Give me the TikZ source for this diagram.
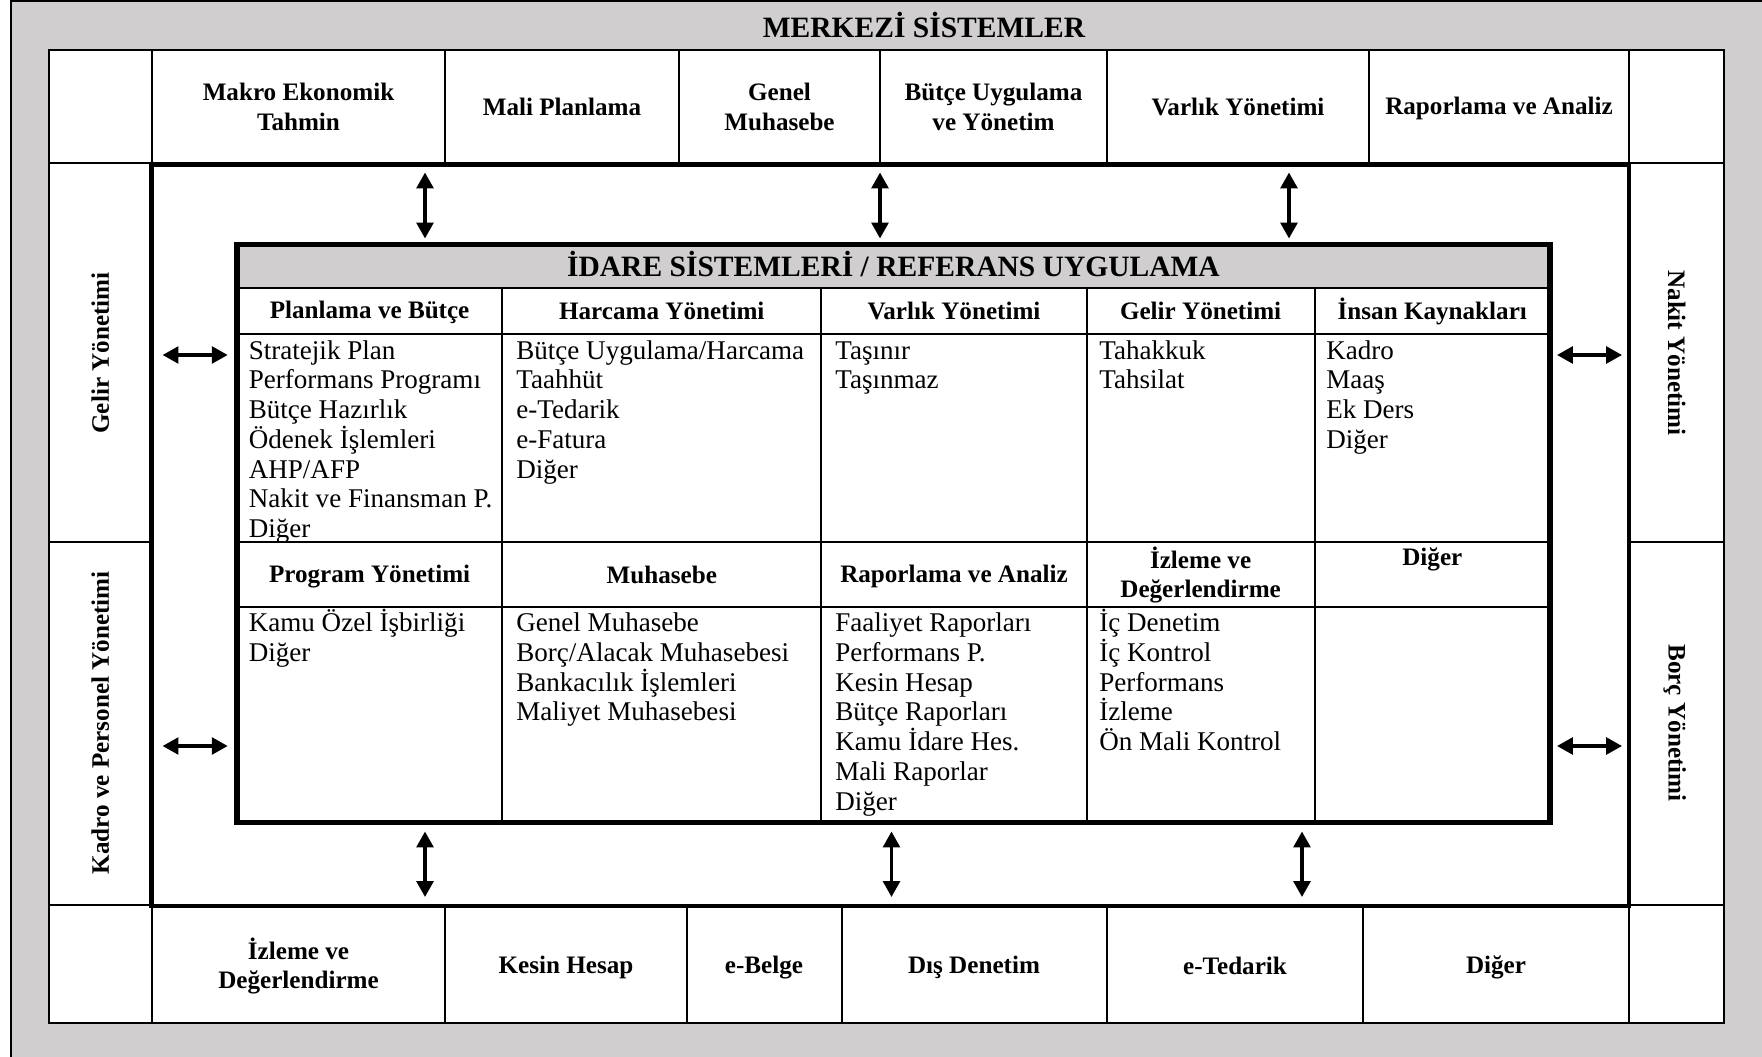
\documentclass[tikz,border=0pt]{standalone}
\usepackage{fontspec}
\setmainfont{Liberation Serif}
\usetikzlibrary{arrows.meta}
\definecolor{framegray}{RGB}{208,206,206}
\newcommand{\boldfont}{\fontsize{14.3}{16.8}\selectfont\bfseries}
\newcommand{\itemfont}{\fontsize{15.4}{16.93}\selectfont}
\newcommand{\titlefont}{\fontsize{16.8}{20}\selectfont\bfseries}
\newcommand{\topstrut}{\rule{0pt}{14pt}}
\newcommand{\ls}{\rule[-2.5pt]{0pt}{14.5pt}}
\newcommand{\cellbox}[4]{\draw[thinline] ( #1 , #2 ) rectangle ( #3 , #4 );}
\tikzset{
    thinline/.style={line width=1.1pt},
    outerline/.style={line width=2.8pt},
    innerline/.style={line width=3.1pt},
    lbl/.style={font=\boldfont, align=center, inner sep=0pt},
    items/.style={font=\itemfont, align=left, anchor=north west, inner sep=0pt},
    dblarrow/.style={line width=1.9pt, {Triangle[length=9pt,width=9.5pt]}-{Triangle[length=9pt,width=9.5pt]}}
}

\begin{document}
\begin{tikzpicture}[x=0.02cm, y=-0.02cm]
        \useasboundingbox (0,0) rectangle (1762,1057);
        \fill[white] (0,0) rectangle (1762,1057);
        \draw[thinline, fill=framegray] (11,1) rectangle (1790,1090);
        \node[font=\titlefont, inner sep=0pt] (merkezi) at (924,27) {\ls MERKEZİ SİSTEMLER};
        \draw[thinline, fill=white] (49,50) rectangle (1724,1023);

        % top row
        \cellbox{49}{50}{152}{163}
        \cellbox{152}{50}{445}{163}
        \cellbox{445}{50}{679}{163}
        \cellbox{679}{50}{880}{163}
        \cellbox{880}{50}{1107}{163}
        \cellbox{1107}{50}{1369}{163}
        \cellbox{1369}{50}{1629}{163}
        \cellbox{1629}{50}{1724}{163}
        % bottom row
        \cellbox{49}{905}{152}{1023}
        \cellbox{152}{905}{445}{1023}
        \cellbox{445}{905}{686.6}{1023}
        \cellbox{686.6}{905}{841.7}{1023}
        \cellbox{841.7}{905}{1107}{1023}
        \cellbox{1107}{905}{1363}{1023}
        \cellbox{1363}{905}{1629}{1023}
        \cellbox{1629}{905}{1724}{1023}
        % side columns
        \cellbox{49}{163}{152}{541.6}
        \cellbox{49}{541.6}{152}{905}
        \cellbox{1629}{163}{1724}{541.6}
        \cellbox{1629}{541.6}{1724}{905}

        \draw[outerline] (151.7,165) rectangle (1629,906);

        % inner table
        \fill[framegray] (237,244.5) rectangle (1550,287.7);
        \draw[thinline] (237,287.7) -- (1550,287.7);
        \draw[thinline] (237,333.7) -- (1550,333.7);
        \draw[thinline] (237,541.6) -- (1550,541.6);
        \draw[thinline] (237,606.8) -- (1550,606.8);
        \draw[thinline] (502.3,287.7) -- (502.3,822.7);
        \draw[thinline] (821.4,287.7) -- (821.4,822.7);
        \draw[thinline] (1086.6,287.7) -- (1086.6,822.7);
        \draw[thinline] (1314.7,287.7) -- (1314.7,822.7);
        \draw[innerline] (237,244.5) rectangle (1550,822.7);

        % text
        \node[lbl] (t1) at (298.5,107) {\ls Makro Ekonomik\\Tahmin\ls};
        \node[lbl] (t2) at (562,107) {\ls Mali Planlama};
        \node[lbl] (t3) at (779.5,107) {\ls Genel\\Muhasebe\ls};
        \node[lbl] (t4) at (993.5,107) {\ls Bütçe Uygulama\\ve Yönetim\ls};
        \node[lbl] (t5) at (1238,107) {\ls Varlık Yönetimi};
        \node[lbl] (t6) at (1499,107) {\ls Raporlama ve Analiz};

        \node[lbl] (b1) at (298.5,966) {\ls İzleme ve\\Değerlendirme\ls};
        \node[lbl] (b2) at (566,966) {\ls Kesin Hesap};
        \node[lbl] (b3) at (764,966) {\ls e-Belge};
        \node[lbl] (b4) at (974,966) {\ls Dış Denetim};
        \node[lbl] (b5) at (1235,966) {\ls e-Tedarik};
        \node[lbl] (b6) at (1496,966) {\ls Diğer};

        \node[lbl, rotate=90] (gelir) at (100.5,353) {\ls Gelir Yönetimi};
        \node[lbl, rotate=90] (kadro) at (100.5,723) {\ls Kadro ve Personel Yönetimi};
        \node[lbl, rotate=-90] (nakit) at (1676.5,353) {\ls Nakit Yönetimi};
        \node[lbl, rotate=-90] (borc) at (1676.5,723) {\ls Borç Yönetimi};

        \node[font=\titlefont, inner sep=0pt] (idare) at (893.5,266) {\ls İDARE SİSTEMLERİ / REFERANS UYGULAMA};

        % row1
        \node[lbl] (h1) at (369.6,311) {\ls Planlama ve Bütçe};
        \node[lbl] (h2) at (661.8,311) {\ls Harcama Yönetimi};
        \node[lbl] (h3) at (954,311) {\ls Varlık Yönetimi};
        \node[lbl] (h4) at (1200.6,311) {\ls Gelir Yönetimi};
        \node[lbl] (h5) at (1432.3,311) {\ls İnsan Kaynakları};

        \node[items] (l1) at (248.5,334.2) {\topstrut Stratejik Plan\\Performans Programı\\Bütçe Hazırlık\\Ödenek İşlemleri\\AHP/AFP\\Nakit ve Finansman P.\\Diğer};
        \node[items] (l2) at (516,334.2) {\topstrut Bütçe Uygulama/Harcama\\Taahhüt\\e-Tedarik\\e-Fatura\\Diğer};
        \node[items] (l3) at (835,334.2) {\topstrut Taşınır\\Taşınmaz};
        \node[items] (l4) at (1099,334.2) {\topstrut Tahakkuk\\Tahsilat};
        \node[items] (l5) at (1326,334.2) {\topstrut Kadro\\Maaş\\Ek Ders\\Diğer};

        % row2
        \node[lbl] (h6) at (369.6,575) {\ls Program Yönetimi};
        \node[lbl] (h7) at (661.8,575) {\ls Muhasebe};
        \node[lbl] (h8) at (954,575) {\ls Raporlama ve Analiz};
        \node[lbl] (h9) at (1200.6,575) {\ls İzleme ve\\Değerlendirme\ls};
        \node[lbl] (h10) at (1432.3,558) {\ls Diğer};

        \node[items] (l6) at (248.5,606.8) {\topstrut Kamu Özel İşbirliği\\Diğer};
        \node[items] (l7) at (516,606.8) {\topstrut Genel Muhasebe\\Borç/Alacak Muhasebesi\\Bankacılık İşlemleri\\Maliyet Muhasebesi};
        \node[items] (l8) at (835,606.8) {\topstrut Faaliyet Raporları\\Performans P.\\Kesin Hesap\\Bütçe Raporları\\Kamu İdare Hes.\\Mali Raporlar\\Diğer};
        \node[items] (l9) at (1099,606.8) {\topstrut İç Denetim\\İç Kontrol\\Performans\\İzleme\\Ön Mali Kontrol};

        % arrows
        \coordinate (ta1) at (425,172.5);
        \coordinate (tb1) at (425,238.5);
        \coordinate (ta2) at (880,172.5);
        \coordinate (tb2) at (880,238.5);
        \coordinate (ta3) at (1289,172.5);
        \coordinate (tb3) at (1289,238.5);
        \coordinate (ba1) at (425,831.5);
        \coordinate (bb1) at (425,897);
        \coordinate (ba2) at (891.5,831.5);
        \coordinate (bb2) at (891.5,897);
        \coordinate (ba3) at (1302,831.5);
        \coordinate (bb3) at (1302,897);
        \coordinate (la1) at (162.6,355);
        \coordinate (lb1) at (227.7,355);
        \coordinate (la2) at (162.6,746);
        \coordinate (lb2) at (227.7,746);
        \coordinate (ra1) at (1557,355);
        \coordinate (rb1) at (1622,355);
        \coordinate (ra2) at (1557,746);
        \coordinate (rb2) at (1622,746);
        \draw[dblarrow] (ta1) -- (tb1);
        \draw[dblarrow] (ta2) -- (tb2);
        \draw[dblarrow] (ta3) -- (tb3);
        \draw[dblarrow] (ba1) -- (bb1);
        \draw[dblarrow] (ba2) -- (bb2);
        \draw[dblarrow] (ba3) -- (bb3);
        \draw[dblarrow] (la1) -- (lb1);
        \draw[dblarrow] (la2) -- (lb2);
        \draw[dblarrow] (ra1) -- (rb1);
        \draw[dblarrow] (ra2) -- (rb2);
\end{tikzpicture}
\end{document}
